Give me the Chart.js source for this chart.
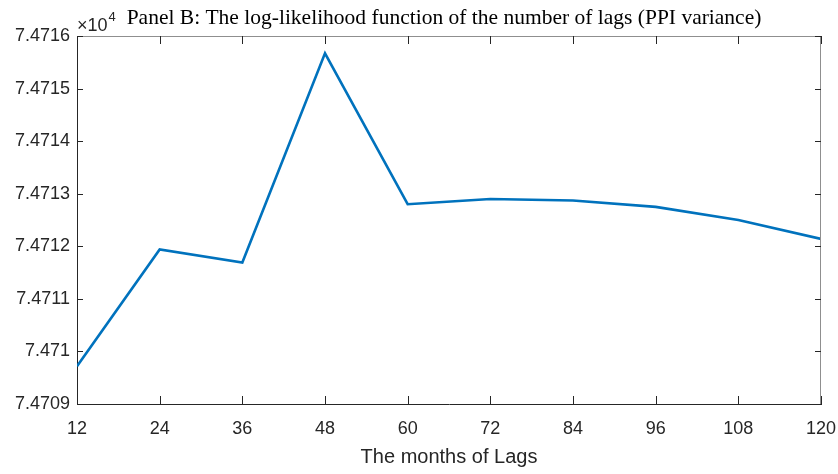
<!DOCTYPE html>
<html>
<head>
<meta charset="utf-8">
<script src="https://cdn.jsdelivr.net/npm/chart.js@4"></script>
<style>
html,body{margin:0;padding:0;background:#fff;}
#wrap{width:838px;height:474px;position:relative;}
</style>
</head>
<body>
<div id="wrap"><canvas id="c" width="838" height="474"></canvas></div>
<script>
// ---- data ----
const lags = [12, 24, 36, 48, 60, 72, 84, 96, 108, 120];
const logLik = [74709.72, 74711.94, 74711.69, 74715.67, 74712.80, 74712.90, 74712.87, 74712.75, 74712.50, 74712.14];
const xTickLabels = ['12','24','36','48','60','72','84','96','108','120'];
const yTickValues = [74709, 74710, 74711, 74712, 74713, 74714, 74715, 74716];
const yTickLabels = ['7.4709','7.471','7.4711','7.4712','7.4713','7.4714','7.4715','7.4716'];
const titleText = 'Panel B: The log-likelihood function of the number of lags (PPI variance)';
const xTitle = 'The months of Lags';

const sans = '"Liberation Sans", Arial, Helvetica, sans-serif';
const serif = '"Liberation Serif", "Times New Roman", serif';
const axisColor = '#262626';

const boxPlugin = {
  id: 'matlabBox',
  afterDraw(chart) {
    const ctx = chart.ctx;
    const a = chart.chartArea;
    const xs = chart.scales.x, ys = chart.scales.y;
    ctx.save();
    // top & right box lines
    ctx.strokeStyle = '#8f8f8f';
    ctx.lineWidth = 1;
    ctx.beginPath();
    ctx.moveTo(a.left, a.top + 0.5); ctx.lineTo(a.right, a.top + 0.5);
    ctx.moveTo(a.right - 0.5, a.top); ctx.lineTo(a.right - 0.5, a.bottom);
    ctx.stroke();
    // inward ticks
    ctx.strokeStyle = axisColor;
    ctx.beginPath();
    xs.ticks.forEach(t => {
      const px = Math.round(xs.getPixelForValue(t.value)) + 0.5;
      ctx.moveTo(px, a.bottom); ctx.lineTo(px, a.bottom - 8);
      ctx.moveTo(px, a.top); ctx.lineTo(px, a.top + 8);
    });
    ys.ticks.forEach(t => {
      const py = Math.round(ys.getPixelForValue(t.value)) + 0.5;
      ctx.moveTo(a.left, py); ctx.lineTo(a.left + 6, py);
      ctx.moveTo(a.right, py); ctx.lineTo(a.right - 6, py);
    });
    ctx.stroke();
    // exponent label
    ctx.fillStyle = axisColor;
    ctx.textAlign = 'left';
    ctx.textBaseline = 'alphabetic';
    ctx.font = '18px ' + sans;
    ctx.fillText('\u00d710', a.left, 31);
    const w = ctx.measureText('\u00d710').width;
    ctx.font = '13px ' + sans;
    ctx.fillText('4', a.left + w + 1, 21);
    // title
    ctx.fillStyle = '#000';
    ctx.textAlign = 'center';
    ctx.font = '21.5px ' + serif;
    ctx.fillText(titleText, 444, 24);
    ctx.restore();
  }
};

new Chart(document.getElementById('c'), {
  type: 'line',
  data: {
    datasets: [{
      data: lags.map((x, i) => ({ x: x, y: logLik[i] })),
      borderColor: '#0072BD',
      borderWidth: 2.6,
      pointRadius: 0,
      tension: 0,
      fill: false
    }]
  },
  options: {
    responsive: false,
    animation: false,
    layout: { padding: { top: 36, right: 17, left: 0, bottom: 0 } },
    plugins: { legend: { display: false }, tooltip: { enabled: false }, title: { display: false } },
    scales: {
      x: {
        type: 'linear',
        min: 12, max: 120,
        afterFit(s) { s.height = 70; s.paddingLeft = 0; s.paddingRight = 0; },
        afterBuildTicks(s) { s.ticks = lags.map(v => ({ value: v })); },
        grid: { display: false, drawTicks: false },
        border: { display: true, color: axisColor, width: 1 },
        ticks: {
          color: axisColor,
          font: { family: sans, size: 18 },
          padding: 14,
          maxRotation: 0,
          autoSkip: false,
          callback: (v) => { const i = lags.indexOf(v); return i >= 0 ? xTickLabels[i] : ''; }
        },
        title: {
          display: true,
          text: xTitle,
          color: axisColor,
          font: { family: sans, size: 20 },
          padding: { top: 0, bottom: 5 }
        }
      },
      y: {
        type: 'linear',
        min: 74709, max: 74716,
        afterFit(s) { s.width = 77; s.paddingTop = 0; s.paddingBottom = 0; },
        afterBuildTicks(s) { s.ticks = yTickValues.map(v => ({ value: v })); },
        grid: { display: false, drawTicks: false },
        border: { display: true, color: axisColor, width: 1 },
        ticks: {
          color: axisColor,
          font: { family: sans, size: 18 },
          padding: 7,
          autoSkip: false,
          callback: (v) => { const i = yTickValues.indexOf(v); return i >= 0 ? yTickLabels[i] : ''; }
        }
      }
    }
  },
  plugins: [boxPlugin]
});
</script>
</body>
</html>
